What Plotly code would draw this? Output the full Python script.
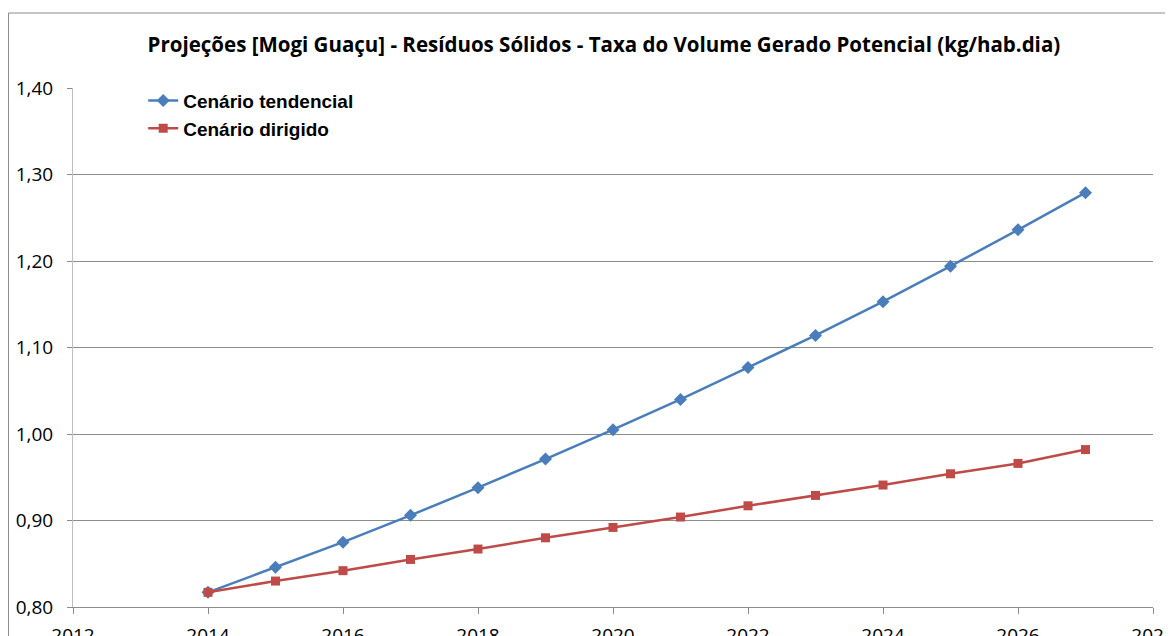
import plotly.graph_objects as go

years = [2014, 2015, 2016, 2017, 2018, 2019, 2020, 2021, 2022, 2023, 2024, 2025, 2026, 2027]
tendencial = [0.817, 0.846, 0.875, 0.906, 0.938, 0.971, 1.005, 1.040, 1.077, 1.114, 1.153, 1.194, 1.236, 1.279]
dirigido = [0.817, 0.830, 0.842, 0.855, 0.867, 0.880, 0.892, 0.904, 0.917, 0.929, 0.941, 0.954, 0.966, 0.982]
x_ticks = [2012, 2014, 2016, 2018, 2020, 2022, 2024, 2026, 2028]
y_ticks = [0.80, 0.90, 1.00, 1.10, 1.20, 1.30, 1.40]

title = "Projeções [Mogi Guaçu] - Resíduos Sólidos - Taxa do Volume Gerado Potencial (kg/hab.dia)"

L, R, T, B = 65, 28, 80, 37
PW = 1173 - L - R
PH = 636 - T - B

fig = go.Figure()
fig.add_trace(go.Scatter(
    x=years, y=tendencial, name="Cenário tendencial", mode="lines+markers",
    line=dict(color="#4A7EBB", width=2.5),
    marker=dict(symbol="diamond", size=10, color="#4A7EBB"),
))
fig.add_trace(go.Scatter(
    x=years, y=dirigido, name="Cenário dirigido", mode="lines+markers",
    line=dict(color="#BE4B48", width=2.5),
    marker=dict(symbol="square", size=9, color="#BE4B48"),
))

fig.update_layout(
    width=1173, height=636,
    margin=dict(l=L, r=R, t=T, b=B, autoexpand=False),
    paper_bgcolor="white", plot_bgcolor="white",
    separators=",.",
    title=dict(text="<b>" + title + "</b>", x=0.508, xanchor="center", y=1 - 37 / 636, yanchor="middle",
               font=dict(family="Open Sans", size=20.5, color="black"), automargin=False),
    showlegend=True,
    legend=dict(x=0.065, y=1.012, xanchor="left", yanchor="top", bgcolor="rgba(0,0,0,0)",
                font=dict(family="Liberation Sans", size=19, color="black"),
                tracegroupgap=0, itemwidth=30),
    font=dict(family="Open Sans", size=19, color="black"),
    shapes=[dict(type="rect", xref="paper", yref="paper",
                 x0=(0.5 - L) / PW, x1=(1162 - L) / PW,
                 y0=-0.2, y1=(636 - B - 5) / PH,
                 line=dict(color="#8C8C8C", width=1), fillcolor="rgba(0,0,0,0)", layer="below")],
)
fig.update_layout(legend_font_weight="bold")

fig.update_xaxes(range=[2012, 2028], tickvals=x_ticks, tickformat="d", automargin=False,
                 showgrid=False, showline=True, linecolor="#8C8C8C", linewidth=1,
                 ticks="outside", ticklen=6, tickcolor="#8C8C8C", zeroline=False,
                 ticklabelstandoff=5,
                 tickfont=dict(family="Open Sans", size=19))
fig.update_yaxes(range=[0.80, 1.40], tickvals=y_ticks, tickformat=".2f", automargin=False,
                 showgrid=True, gridcolor="#8C8C8C", gridwidth=1,
                 showline=True, linecolor="#BFBFBF", linewidth=1,
                 ticks="outside", ticklen=5, tickcolor="#8C8C8C",
                 ticklabelstandoff=10,
                 zeroline=False, tickfont=dict(family="Open Sans", size=19))

fig.write_html("out.html")
